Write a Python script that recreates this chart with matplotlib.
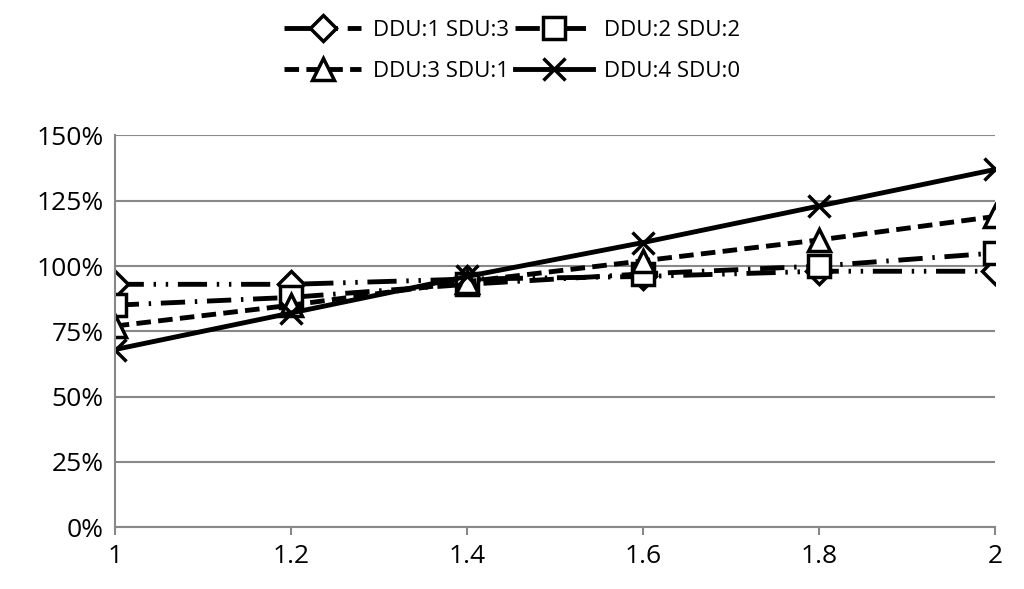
import matplotlib.pyplot as plt
from matplotlib.ticker import FuncFormatter

x = [1, 1.2, 1.4, 1.6, 1.8, 2]
ddu1 = [93, 93, 95, 96, 98, 98]
ddu2 = [85, 88, 93, 97, 100, 105]
ddu3 = [77, 85, 94, 102, 110, 119]
ddu4 = [68, 82, 96, 109, 123, 137]
labels = ['DDU:1 SDU:3', 'DDU:2 SDU:2', 'DDU:3 SDU:1', 'DDU:4 SDU:0']

plt.rcParams['font.family'] = ['Open Sans', 'DejaVu Sans']
fig, ax = plt.subplots(figsize=(10.24, 5.89), dpi=100)
fig.subplots_adjust(left=0.112, right=0.972, top=0.77, bottom=0.105)

kw = dict(color='black', lw=3.5, mfc='white', mew=2.5)
h1, = ax.plot(x, ddu1, marker='D', ms=13, ls=(0, (6, 2, 0.5, 2, 0.5, 2)), label=labels[0], **kw)
h2, = ax.plot(x, ddu2, marker='s', ms=16, ls=(0, (5, 2, 0.5, 2)), label=labels[1], **kw)
h3, = ax.plot(x, ddu3, marker='^', ms=16, ls=(0, (3, 1.5)), label=labels[2], **kw)
h4, = ax.plot(x, ddu4, marker='x', ms=16, ls='-', label=labels[3], **kw)

ax.set_xlim(1, 2)
ax.set_ylim(0, 150)
ax.set_xticks(x)
ax.set_xticklabels(['1', '1.2', '1.4', '1.6', '1.8', '2'])
ax.set_yticks(range(0, 151, 25))
ax.yaxis.set_major_formatter(FuncFormatter(lambda v, p: f'{int(v)}%'))
ax.tick_params(axis='y', labelsize=19, length=0, pad=8)
ax.tick_params(axis='x', labelsize=19, length=6, width=1.5, color='#888888', pad=6)
ax.grid(axis='y', color='#888888', lw=1.5)
for s in ['top', 'right']:
    ax.spines[s].set_visible(False)
for s in ['left', 'bottom']:
    ax.spines[s].set_color('#888888')
    ax.spines[s].set_linewidth(1.5)
ax.set_axisbelow(True)

fig.legend([h1, h3, h2, h4], [labels[0], labels[2], labels[1], labels[3]],
           loc='upper center', ncol=2, bbox_to_anchor=(0.5, 1.0), frameon=False,
           fontsize=16, handlelength=3.5, columnspacing=0.3, handletextpad=0.5,
           labelspacing=0.9)
fig.savefig('out.png')
